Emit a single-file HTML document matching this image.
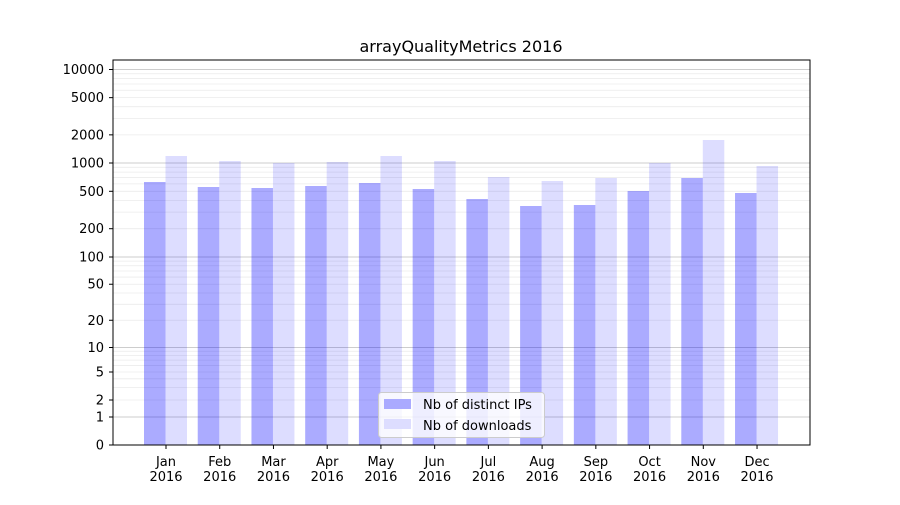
<!DOCTYPE html><html><head><style>body{margin:0;background:#fff}svg{font-family:"DejaVu Sans","Liberation Sans",sans-serif}</style></head><body>
<svg id="s" width="900" height="500" xmlns="http://www.w3.org/2000/svg"></svg>
<script>
const s=document.getElementById('s');let h='';
const K=[[1,417],[2,400],[5,372],[10,347.5],[100,257],[1000,163],[10000,69.5]];
function y(v){if(v<=1)return 445-28*v;for(let i=0;i<K.length-1;i++){if(v<=K[i+1][0]){const f=Math.log10(v/K[i][0])/Math.log10(K[i+1][0]/K[i][0]);return K[i][1]+(K[i+1][1]-K[i][1])*f;}}return 69.5;}
for(let d of [1,10,100,1000])for(let m=2;m<10;m++){const yy=y(d*m);h+=`<line x1="113" x2="810" y1="${yy}" y2="${yy}" stroke="#ebebeb" stroke-width="0.8"/>`;}
for(let d of [1,10,100,1000,10000]){const yy=y(d);h+=`<line x1="113" x2="810" y1="${yy}" y2="${yy}" stroke="#bdbdbd" stroke-width="0.8"/>`;}
const dk=[182,187,188,186,183,189,199,206,205,191,178,193];
const lt=[156,161,163,162,156,161,177,181,178,163,140,166];
const mo=['Jan','Feb','Mar','Apr','May','Jun','Jul','Aug','Sep','Oct','Nov','Dec'];
for(let i=0;i<12;i++){const c=166+53.73*i;
h+=`<rect x="${c-22}" y="${dk[i]}" width="21.5" height="${445-dk[i]}" fill="#0000ff" fill-opacity="0.33"/>`;
h+=`<rect x="${c-0.5}" y="${lt[i]}" width="21.5" height="${445-lt[i]}" fill="#0000ff" fill-opacity="0.135"/>`;
h+=`<line x1="${c}" x2="${c}" y1="445" y2="449" stroke="#000"/>`;
h+=`<text x="${c}" y="466" font-size="13" text-anchor="middle">${mo[i]}</text><text x="${c}" y="481" font-size="13" text-anchor="middle">2016</text>`;}
h+=`<rect x="113" y="60" width="697" height="385" fill="none" stroke="#000" stroke-width="1"/>`;
const T=[[0,'0'],[1,'1'],[2,'2'],[5,'5'],[10,'10'],[20,'20'],[50,'50'],[100,'100'],[200,'200'],[500,'500'],[1000,'1000'],[2000,'2000'],[5000,'5000'],[10000,'10000']];
for(const [v,l] of T){const yy=y(v);h+=`<line x1="109" x2="113" y1="${yy}" y2="${yy}" stroke="#000"/><text x="104" y="${yy+4.5}" font-size="13" text-anchor="end">${l}</text>`;}
h+=`<text x="461" y="52" font-size="16" text-anchor="middle">arrayQualityMetrics 2016</text>`;
h+=`<rect x="378.5" y="392.5" width="166" height="45" rx="3" fill="#fff" fill-opacity="0.8" stroke="#ccc"/>`;
h+=`<rect x="384" y="399" width="27" height="10" fill="#aaaaff"/><text x="423" y="409" font-size="13">Nb of distinct IPs</text>`;
h+=`<rect x="384" y="419" width="27" height="10" fill="#ddddff"/><text x="423" y="430" font-size="13">Nb of downloads</text>`;
s.innerHTML=h;
</script></body></html>
